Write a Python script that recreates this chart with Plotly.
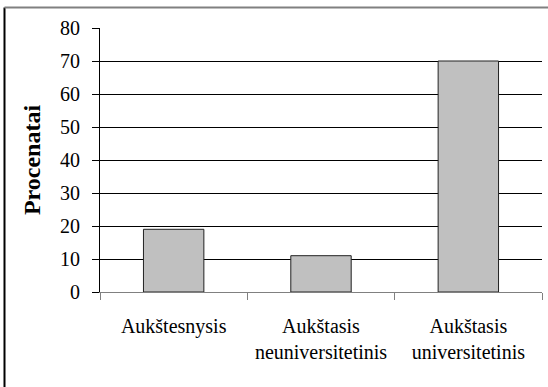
import plotly.graph_objects as go

categories = ["Aukštesnysis", "Aukštasis<br>neuniversitetinis", "Aukštasis<br>universitetinis"]
values = [19, 11, 70]
y_ticks = [0, 10, 20, 30, 40, 50, 60, 70, 80]
y_title = "Procenatai"

W, H = 548, 387
ml, mr, mt, mb = 100, 6, 28, 95
pw, ph = W - ml - mr, H - mt - mb

font = "Liberation Serif"


def serif_label(s):
    # canonically equivalent decomposed form keeps the serif font in use
    return s.replace("š", "s\u030C")


tick_text = [serif_label(c) for c in categories]

fig = go.Figure(go.Bar(
    x=categories, y=values, width=0.41,
    marker=dict(color="#C0C0C0", line=dict(color="#222222", width=1)),
))

fig.update_layout(
    width=W, height=H, margin=dict(l=ml, r=mr, t=mt, b=mb),
    paper_bgcolor="white", plot_bgcolor="white",
    showlegend=False,
    font=dict(family=font, size=20, color="black"),
)
fig.update_yaxes(
    range=[0, 80], tickvals=y_ticks, showgrid=True, gridcolor="black", gridwidth=1,
    showline=True, linecolor="black", linewidth=1,
    ticks="outside", ticklen=7, tickcolor="black", ticklabelstandoff=8,
    tickfont=dict(family=font, size=20),
    title=dict(text="<b>" + y_title + "</b>", font=dict(family=font, size=24), standoff=12),
    zeroline=False,
)
fig.update_xaxes(
    tickvals=categories, ticktext=tick_text,
    showline=True, linecolor="#808080", linewidth=1,
    ticks="outside", ticklen=7, tickcolor="#808080", tickson="boundaries",
    tickfont=dict(family=font, size=20),
    ticklabelstandoff=16, showgrid=False,
)
# outer chart border (left and top edges only visible)
bx = (4.5 - ml) / pw
by = 1 + (mt - 7.5) / ph
fig.add_shape(type="line", xref="paper", yref="paper", x0=bx, x1=bx, y0=-mb / ph - 0.01, y1=by,
              line=dict(color="black", width=2))
fig.add_shape(type="line", xref="paper", yref="paper", x0=bx, x1=(W - ml) / pw + 0.01, y0=by, y1=by,
              line=dict(color="#808080", width=2))

fig.write_html("out.html", config={"displayModeBar": False},
               post_script="document.body.style.margin='0px';")
